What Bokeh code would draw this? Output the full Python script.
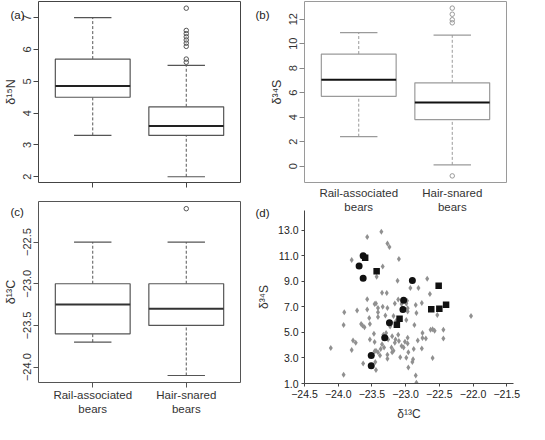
from bokeh.plotting import figure
from bokeh.layouts import column, row
from bokeh.models import Range1d, FixedTicker
from bokeh.embed import file_html
from bokeh.resources import INLINE

FONT = "Liberation Sans"

groups = ["Rail-associated\nbears", "Hair-snared\nbears"]
group_pos = [1, 2]

# (a) d15N
n_low = [3.3, 2.0]
n_q1 = [4.5, 3.3]
n_med = [4.85, 3.6]
n_q3 = [5.7, 4.2]
n_high = [7.0, 5.5]
n_out_grp = [2, 2, 2, 2, 2, 2, 2, 2, 2]
n_out = [5.6, 5.7, 6.1, 6.2, 6.3, 6.4, 6.5, 6.6, 7.3]

# (b) d34S
s_low = [2.4, 0.1]
s_q1 = [5.7, 3.8]
s_med = [7.05, 5.2]
s_q3 = [9.15, 6.8]
s_high = [10.9, 10.7]
s_out_grp = [2, 2, 2, 2, 2]
s_out = [12.9, 12.4, 11.95, 11.7, -0.8]

# (c) d13C
c_low = [-23.7, -24.1]
c_q1 = [-23.6, -23.5]
c_med = [-23.25, -23.3]
c_q3 = [-23.0, -23.0]
c_high = [-22.5, -22.5]
c_out_grp = [2]
c_out = [-22.1]

# (d) scatter d13C vs d34S
gray_c13 = [-23.57, -23.36, -23.27, -23.24, -23.80, -23.10, -23.34, -23.43, -23.12, -22.93,
            -22.81, -22.68, -22.64, -23.35, -23.28, -23.57, -23.91, -23.72, -23.57, -23.46,
            -23.44, -23.41, -23.34, -23.27, -23.16, -23.11, -23.06, -22.99, -22.97, -22.97,
            -22.84, -22.76, -22.53, -22.03, -23.92, -23.66, -23.64, -23.53, -23.54, -23.41,
            -23.30, -23.18, -23.14, -22.99, -22.87, -22.75, -22.63, -22.60, -22.57, -22.44,
            -22.44, -22.60, -22.70, -22.75, -22.82, -22.76, -22.88, -22.97, -22.97, -23.03,
            -22.96, -22.89, -22.90, -22.96, -22.85, -22.84, -22.99, -23.01, -23.11, -23.20,
            -23.15, -23.16, -23.21, -23.20, -23.27, -23.32, -23.35, -23.37, -23.41, -23.38,
            -23.44, -23.46, -23.49, -23.45, -23.44, -23.46, -23.47, -23.33, -23.29, -23.27,
            -23.63, -23.80, -23.78, -23.74, -24.11, -23.92, -23.10, -23.06, -23.08, -23.18,
            -23.23, -23.26, -23.61, -23.53, -23.41, -22.85, -22.98]
gray_s34 = [12.45, 12.87, 11.94, 11.67, 10.66, 10.74, 10.16, 9.35, 9.03, 8.47,
            8.47, 9.20, 7.99, 8.09, 8.07, 7.59, 6.58, 6.71, 6.79, 7.21,
            7.26, 6.91, 7.01, 6.91, 7.26, 7.57, 7.21, 7.26, 6.89, 6.63,
            6.51, 7.29, 6.36, 6.28, 5.58, 5.65, 5.53, 5.65, 6.13, 6.21,
            6.31, 6.28, 5.91, 5.96, 5.58, 4.95, 5.20, 5.25, 5.13, 5.20,
            4.52, 2.99, 4.52, 4.55, 4.37, 3.74, 3.69, 4.12, 4.57, 3.82,
            3.44, 2.89, 2.69, 2.26, 1.63, 1.05, 3.01, 4.27, 4.82, 4.70,
            4.45, 4.19, 3.82, 3.44, 3.24, 3.82, 4.07, 3.69, 3.44, 3.19,
            3.57, 3.52, 3.19, 2.69, 2.06, 4.24, 4.89, 4.82, 4.95, 2.94,
            2.56, 3.62, 4.37, 4.19, 3.77, 1.68, 4.32, 3.94, 3.06, 3.57,
            5.45, 4.45, 5.40, 4.45, 6.58, 7.14, 7.47]
circ_c13 = [-23.69, -23.63, -23.63, -22.90, -23.03, -23.04, -23.24, -23.31, -23.51, -23.51]
circ_s34 = [10.18, 10.99, 9.23, 9.05, 7.52, 6.79, 5.75, 4.57, 3.19, 2.38]
sq_c13 = [-23.60, -23.43, -23.09, -23.13, -22.51, -22.62, -22.50, -22.40]
sq_s34 = [10.84, 9.78, 6.06, 5.60, 8.65, 6.81, 6.84, 7.16]

d_xticks = [-24.5, -24.0, -23.5, -23.0, -22.5, -22.0, -21.5]
d_yticks = [1, 3, 5, 7, 9, 11, 13]

panel_letters = ["(a)", "(b)", "(c)", "(d)"]


def fmt_minus(v, nd):
    s = f"{v:.{nd}f}"
    return s.replace("-", "\u2212")


def letter_fig(txt, margin):
    f = figure(width=30, height=30, x_axis_type=None, y_axis_type=None, title=txt,
               output_backend="svg", toolbar_location=None,
               min_border_left=0, min_border_right=0, min_border_top=0, min_border_bottom=0)
    f.outline_line_color = None
    f.border_fill_color = None
    f.background_fill_color = None
    f.title.text_font = FONT
    f.title.text_font_size = "11.5px"
    f.title.text_font_style = "normal"
    f.title.text_color = "#222222"
    f.title.align = "left"
    f.title.offset = 0
    f.title.standoff = 0
    f.margin = margin
    return f


def box_fig(yrange, yticks, ylabel, nd, frame_col, mb):
    p = figure(frame_width=202, frame_height=181, x_range=Range1d(0.42, 2.58),
               y_range=Range1d(*yrange), output_backend="svg", toolbar_location=None,
               min_border_left=mb[0], min_border_right=mb[1], min_border_top=mb[2],
               min_border_bottom=mb[3])
    p.border_fill_color = None
    p.background_fill_color = None
    p.outline_line_color = frame_col
    p.outline_line_width = 1
    p.xgrid.visible = False
    p.ygrid.visible = False
    for ax in (p.xaxis[0], p.yaxis[0]):
        ax.axis_line_color = None
        ax.major_tick_in = 0
        ax.major_tick_out = 5
        ax.minor_tick_in = 0
        ax.minor_tick_out = 0
        ax.major_tick_line_color = frame_col
        ax.major_label_text_font = FONT
        ax.major_label_text_color = "#333333"
        ax.axis_label_text_font = FONT
        ax.axis_label_text_font_style = "normal"
        ax.axis_label_text_color = "#333333"
    p.yaxis.ticker = FixedTicker(ticks=yticks)
    p.yaxis.major_label_overrides = {t: fmt_minus(t, nd) for t in yticks}
    p.yaxis.major_label_orientation = "vertical"
    p.yaxis.major_label_text_font_size = "11px"
    p.yaxis.major_label_standoff = 2
    p.yaxis.axis_label = ylabel
    p.yaxis.axis_label_text_font_size = "12.5px"
    p.yaxis.axis_label_standoff = 3
    p.xaxis.ticker = FixedTicker(ticks=group_pos)
    p.xaxis.major_label_text_font_size = "11.5px"
    p.xaxis.major_label_standoff = 1
    return p


def draw_box(p, low, q1, med, q3, high, og, out, box_col, med_col, whisk_col):
    hw, cw = 0.4, 0.2
    p.segment(x0=group_pos, y0=q3, x1=group_pos, y1=high, line_color=whisk_col,
              line_dash="3 2", line_width=1)
    p.segment(x0=group_pos, y0=low, x1=group_pos, y1=q1, line_color=whisk_col,
              line_dash="3 2", line_width=1)
    p.segment(x0=[g - cw for g in group_pos], y0=high, x1=[g + cw for g in group_pos],
              y1=high, line_color=box_col, line_width=1.2)
    p.segment(x0=[g - cw for g in group_pos], y0=low, x1=[g + cw for g in group_pos],
              y1=low, line_color=box_col, line_width=1.2)
    p.vbar(x=group_pos, width=2 * hw, bottom=q1, top=q3, fill_color="white",
           line_color=box_col, line_width=1.2)
    p.segment(x0=[g - hw for g in group_pos], y0=med, x1=[g + hw for g in group_pos],
              y1=med, line_color=med_col, line_width=2)
    p.scatter(x=og, y=out, marker="circle", size=4.5, fill_color=None,
              line_color=box_col, line_width=1)


# (a)
pa = box_fig((1.82, 7.51), [2, 3, 4, 5, 6, 7], "\u03b4\u00b9\u2075N", 0,
             "#444444", (38, 14, 1, 14))
pa.xaxis.major_label_overrides = {1: "", 2: ""}
pa.xaxis.major_label_text_font_size = "0px"
draw_box(pa, n_low, n_q1, n_med, n_q3, n_high, n_out_grp, n_out,
         "#555555", "#222222", "#555555")

# (c)
pc = box_fig((-24.184, -22.014), [-24.0, -23.5, -23.0, -22.5],
             "\u03b4\u00b9\u00b3C", 1, "#555555", (38, 14, 5, 48))
pc.xaxis.major_label_overrides = {g: lab for g, lab in zip(group_pos, groups)}
pc.margin = (0, 0, -14, 0)
draw_box(pc, c_low, c_q1, c_med, c_q3, c_high, c_out_grp, c_out,
         "#555555", "#333333", "#555555")

# (b)
pb = box_fig((-1.34, 13.44), [0, 2, 4, 6, 8, 10, 12], "\u03b4\u00b3\u2074S", 0,
             "#9a9a9a", (38, 29, 1, 44))
pb.xaxis.major_label_overrides = {g: lab for g, lab in zip(group_pos, groups)}
pb.xaxis.major_tick_out = 0
pb.xaxis.major_label_standoff = 4
pb.yaxis.major_tick_line_color = "#888888"
pb.margin = (0, 0, -26, 0)
draw_box(pb, s_low, s_q1, s_med, s_q3, s_high, s_out_grp, s_out,
         "#9a9a9a", "#111111", "#9a9a9a")

# (d)
pd_ = figure(frame_width=209, frame_height=173, x_range=Range1d(-24.5, -21.4),
             y_range=Range1d(1, 14.53), output_backend="svg", toolbar_location=None,
             min_border_left=50, min_border_right=10, min_border_top=10, min_border_bottom=40)
pd_.margin = (0, 0, -12, 0)
pd_.border_fill_color = None
pd_.background_fill_color = None
pd_.outline_line_color = None
pd_.xgrid.visible = False
pd_.ygrid.visible = False
for ax in (pd_.xaxis[0], pd_.yaxis[0]):
    ax.axis_line_color = "#444444"
    ax.major_tick_in = 0
    ax.major_tick_out = 3
    ax.minor_tick_in = 0
    ax.minor_tick_out = 0
    ax.major_tick_line_color = "#444444"
    ax.major_label_text_font = FONT
    ax.major_label_text_font_size = "10.5px"
    ax.major_label_text_color = "#222222"
    ax.major_label_standoff = 3
    ax.axis_label_text_font = FONT
    ax.axis_label_text_font_size = "12px"
    ax.axis_label_text_font_style = "normal"
    ax.axis_label_text_color = "#333333"
pd_.xaxis.ticker = FixedTicker(ticks=d_xticks)
pd_.xaxis.major_label_overrides = {t: fmt_minus(t, 1) for t in d_xticks}
pd_.yaxis.ticker = FixedTicker(ticks=d_yticks)
pd_.yaxis.major_label_overrides = {t: f"{t:.1f}" for t in d_yticks}
pd_.xaxis.axis_label = "\u03b4\u00b9\u00b3C"
pd_.yaxis.axis_label = "\u03b4\u00b3\u2074S"
pd_.xaxis.axis_label_standoff = 6
pd_.yaxis.axis_label_standoff = 4
pd_.scatter(x=gray_c13, y=gray_s34, marker="diamond", size=6, fill_color="#909090",
            line_color=None)
pd_.scatter(x=circ_c13, y=circ_s34, marker="circle", size=7, fill_color="#111111",
            line_color=None)
pd_.scatter(x=sq_c13, y=sq_s34, marker="square", size=6.5, fill_color="#111111",
            line_color=None)

# letter figures overlaid with negative margins (pa is 196 px tall, pb ends at 200)
ta = letter_fig(panel_letters[0], (-190, 0, 160, -6))
tb = letter_fig(panel_letters[1], (6, 0, -36, 0))
tc = letter_fig(panel_letters[2], (7, 0, -37, -6))
td = letter_fig(panel_letters[3], (4, 0, -34, 0))

left_col = column(pa, ta, tc, pc)
right_col = column(tb, pb, td, pd_)
layout = row(left_col, right_col)

open("out.html", "w").write(file_html(layout, INLINE))
